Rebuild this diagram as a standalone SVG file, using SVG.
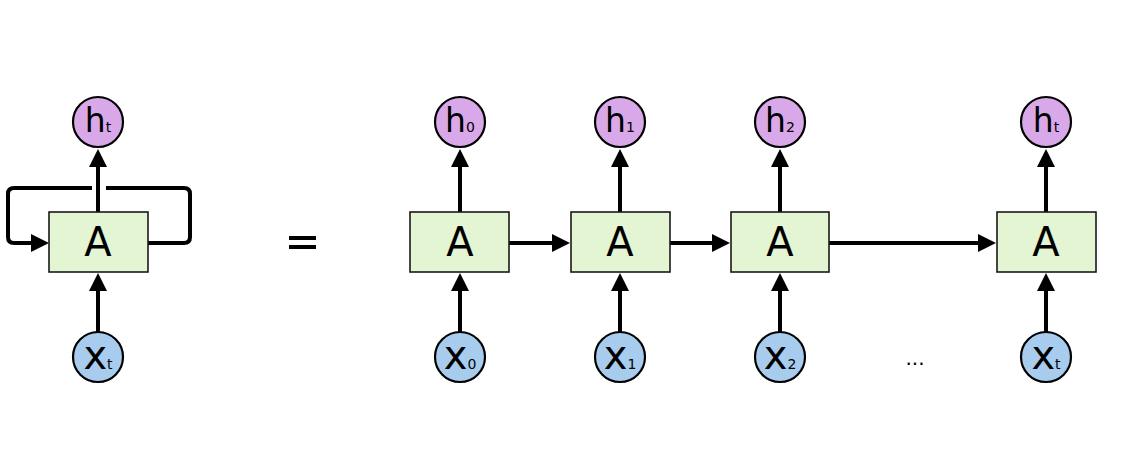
<svg xmlns="http://www.w3.org/2000/svg" width="1127" height="469" viewBox="0 0 1127 469">
<defs>
<marker id="arr" markerUnits="userSpaceOnUse" markerWidth="20" markerHeight="20" viewBox="0 -10 20 20" refX="0" refY="0" orient="auto">
<path d="M0,-9 L18,0 L0,9 z" fill="#000"/>
</marker>
<style>
.box{fill:#e3f5d3;stroke:#1a1a1a;stroke-width:1.6}
.h{fill:#d9a8e8;stroke:#000;stroke-width:2.2}
.x{fill:#a7ccee;stroke:#000;stroke-width:2.2}
.c{fill:none;stroke:#000;stroke-width:4}
text{font-family:"DejaVu Sans",sans-serif;fill:#000}
.big{font-size:40px;text-anchor:middle}
.hl{font-size:33px;text-anchor:middle}
.xl{font-size:40px;text-anchor:middle}
.sub{font-size:14px}
</style>
</defs>
<rect width="1127" height="469" fill="#fff"/>
<g id="connectors">
<path class="c" d="M148,243 H184 Q190,243 190,237 V194 Q190,188 184,188 H106" />
<path class="c" d="M92,188 H14 Q8,188 8,194 V237 Q8,243 14,243 H31" marker-end="url(#arr)"/>
<line class="c" x1="98" y1="212" x2="98" y2="167" marker-end="url(#arr)"/>
<line class="c" x1="98" y1="332" x2="98" y2="291" marker-end="url(#arr)"/>
<line class="c" x1="460" y1="212" x2="460" y2="167" marker-end="url(#arr)"/>
<line class="c" x1="460" y1="332" x2="460" y2="291" marker-end="url(#arr)"/>
<line class="c" x1="620" y1="212" x2="620" y2="167" marker-end="url(#arr)"/>
<line class="c" x1="620" y1="332" x2="620" y2="291" marker-end="url(#arr)"/>
<line class="c" x1="780" y1="212" x2="780" y2="167" marker-end="url(#arr)"/>
<line class="c" x1="780" y1="332" x2="780" y2="291" marker-end="url(#arr)"/>
<line class="c" x1="1046" y1="212" x2="1046" y2="167" marker-end="url(#arr)"/>
<line class="c" x1="1046" y1="332" x2="1046" y2="291" marker-end="url(#arr)"/>
<line class="c" x1="509" y1="243" x2="552" y2="243" marker-end="url(#arr)"/>
<line class="c" x1="670" y1="243" x2="712" y2="243" marker-end="url(#arr)"/>
<line class="c" x1="829" y1="243" x2="978" y2="243" marker-end="url(#arr)"/>
</g>
<g id="A_loop"><rect class="box" x="49" y="212" width="99" height="60"/><text class="big" x="98" y="256">A</text></g>
<g id="h_loop"><circle class="h" cx="98" cy="122" r="25"/><text class="hl" x="98" y="132">h<tspan class="sub">t</tspan></text></g>
<g id="x_loop"><circle class="x" cx="98" cy="357" r="25"/><text class="xl" x="98" y="369">x<tspan class="sub">t</tspan></text></g>
<g id="equals"><rect x="289" y="236" width="27" height="4" fill="#000"/><rect x="289" y="245" width="27" height="4" fill="#000"/></g>
<g id="A0"><rect class="box" x="410" y="212" width="99" height="60"/><text class="big" x="460" y="256">A</text></g>
<g id="h0"><circle class="h" cx="460" cy="122" r="25"/><text class="hl" x="460" y="132">h<tspan class="sub">0</tspan></text></g>
<g id="x0"><circle class="x" cx="460" cy="357" r="25"/><text class="xl" x="460" y="369">x<tspan class="sub">0</tspan></text></g>
<g id="A1"><rect class="box" x="571" y="212" width="99" height="60"/><text class="big" x="620" y="256">A</text></g>
<g id="h1"><circle class="h" cx="620" cy="122" r="25"/><text class="hl" x="620" y="132">h<tspan class="sub">1</tspan></text></g>
<g id="x1"><circle class="x" cx="620" cy="357" r="25"/><text class="xl" x="620" y="369">x<tspan class="sub">1</tspan></text></g>
<g id="A2"><rect class="box" x="731" y="212" width="98" height="60"/><text class="big" x="780" y="256">A</text></g>
<g id="h2"><circle class="h" cx="780" cy="122" r="25"/><text class="hl" x="780" y="132">h<tspan class="sub">2</tspan></text></g>
<g id="x2"><circle class="x" cx="780" cy="357" r="25"/><text class="xl" x="780" y="369">x<tspan class="sub">2</tspan></text></g>
<g id="dots"><text x="915" y="365" style="font-size:20px;text-anchor:middle">...</text></g>
<g id="At"><rect class="box" x="997" y="212" width="99" height="60"/><text class="big" x="1046" y="256">A</text></g>
<g id="ht"><circle class="h" cx="1046" cy="122" r="25"/><text class="hl" x="1046" y="132">h<tspan class="sub">t</tspan></text></g>
<g id="xt"><circle class="x" cx="1046" cy="357" r="25"/><text class="xl" x="1046" y="369">x<tspan class="sub">t</tspan></text></g>
</svg>
